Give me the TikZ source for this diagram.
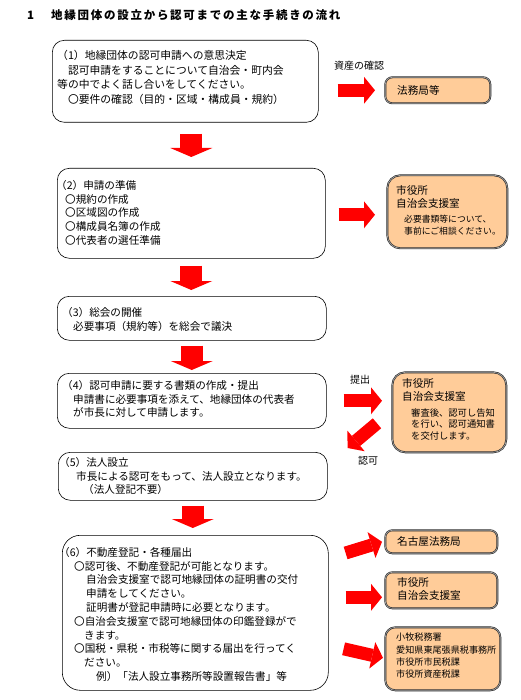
\documentclass[tikz,border=0pt]{standalone}
\usepackage{fontspec}
\usetikzlibrary{arrows.meta,calc,positioning}
\newfontfamily\jp{Noto Sans CJK JP}
\newfontfamily\jptitle[LetterSpace=15]{Noto Sans CJK JP}
\definecolor{peach}{RGB}{255,204,153}

\tikzset{
  stepbox/.style={draw=black, line width=0.6pt, rounded corners=12pt, anchor=north west, inner sep=0pt},
  office/.style={draw=black!85, line width=0.6pt, double=gray!70, double distance=0.7pt, fill=peach, rounded corners=7pt, anchor=north west, inner sep=0pt},
  boxtext/.style={anchor=north west, inner sep=0pt, align=left, font=\jp\fontsize{10.6}{13.8}\selectfont},
  notetext/.style={anchor=north west, inner sep=0pt, align=left, font=\jp\fontsize{8.8}{11.5}\selectfont},
  downarrow/.style={red, line width=22pt, -{Triangle[width=42pt,length=9pt,line width=0pt]}},
  rightarrow/.style={red, line width=13pt, -{Triangle[width=27pt,length=11pt,line width=0pt]}},
}

\begin{document}
\begin{tikzpicture}[x=1pt,y=-1pt]
    \useasboundingbox[fill=white] (0,0) rectangle (520,700);

    % 見出し
    \node[anchor=west, inner sep=0pt, font=\jptitle\bfseries\fontsize{11.5}{13}\selectfont] (title) at (27,15)
        {1\hspace{17pt}地縁団体の設立から認可までの主な手続きの流れ};

    % 手続きの枠
    \node[stepbox, minimum width=266pt, minimum height=82pt] (s1) at (52,40) {};
    \node[stepbox, minimum width=268pt, minimum height=90pt] (s2) at (57,168) {};
    \node[stepbox, minimum width=269pt, minimum height=44pt] (s3) at (57,296) {};
    \node[stepbox, minimum width=269pt, minimum height=55pt] (s4) at (57,373) {};
    \node[stepbox, minimum width=269pt, minimum height=48pt] (s5) at (58,452) {};
    \node[stepbox, rounded corners=18pt, minimum width=266pt, minimum height=155pt] (s6) at (62,535) {};

    \node[boxtext, font=\jp\fontsize{10.8}{14.6}\selectfont] (s1text) at (57,50) {（1）地縁団体の認可申請への意思決定\\
        　認可申請をすることについて自治会・町内会\\
        等の中でよく話し合いをしてください。\\
        　〇要件の確認（目的・区域・構成員・規約）};
    \node[boxtext] (s2text) at (56,180) {（2）申請の準備\\
        \hspace{9pt}〇規約の作成\\
        \hspace{9pt}〇区域図の作成\\
        \hspace{9pt}〇構成員名簿の作成\\
        \hspace{9pt}〇代表者の選任準備};
    \node[boxtext] (s3text) at (62,307) {（3）総会の開催\\
        \hspace{11pt}必要事項（規約等）を総会で議決};
    \node[boxtext] (s4text) at (62,380) {（4）認可申請に要する書類の作成・提出\\
        \hspace{11pt}申請書に必要事項を添えて、地縁団体の代表者\\
        \hspace{11pt}が市長に対して申請します。};
    \node[boxtext] (s5text) at (59,457) {（5）法人設立\\
        \hspace{17pt}市長による認可をもって、法人設立となります。\\
        \hspace{24pt}（法人登記不要）};
    \node[boxtext] (s6text) at (59,547) {（6）不動産登記・各種届出\\
        \hspace{15pt}〇認可後、不動産登記が可能となります。\\
        \hspace{27pt}自治会支援室で認可地縁団体の証明書の交付\\
        \hspace{27pt}申請をしてください。\\
        \hspace{27pt}証明書が登記申請時に必要となります。\\
        \hspace{15pt}〇自治会支援室で認可地縁団体の印鑑登録がで\\
        \hspace{25pt}きます。\\
        \hspace{15pt}〇国税・県税・市税等に関する届出を行ってく\\
        \hspace{25pt}ださい。\\
        \hspace{37pt}例）「法人設立事務所等設置報告書」等};

    % 窓口の枠
    \node[office, minimum width=105pt, minimum height=26pt] (h1) at (385,77) {};
    \node[office, rounded corners=13pt, minimum width=120pt, minimum height=73pt] (r2) at (387,175) {};
    \node[office, rounded corners=13pt, minimum width=114pt, minimum height=80pt] (r4) at (392,372) {};
    \node[office, minimum width=112pt, minimum height=23pt] (r6a) at (385,530) {};
    \node[office, minimum width=112pt, minimum height=36pt] (r6b) at (385,572) {};
    \node[office, rounded corners=10pt, minimum width=115pt, minimum height=63pt] (r6c) at (385,627) {};

    \node[boxtext, anchor=west] (h1text) at (397,90) {法務局等};
    \node[boxtext] (r2text) at (396,185) {市役所\\自治会支援室};
    \node[notetext] (r2note) at (404,215) {必要書類等について、\\事前にご相談ください。};
    \node[boxtext] (r4text) at (402,378) {市役所\\自治会支援室};
    \node[notetext, font=\jp\fontsize{9.3}{11.5}\selectfont] (r4note) at (411,408) {審査後、認可し告知\\を行い、認可通知書\\を交付します。};
    \node[boxtext, anchor=west] (r6atext) at (397,541) {名古屋法務局};
    \node[boxtext] (r6btext) at (397,577) {市役所\\自治会支援室};
    \node[notetext, font=\jp\fontsize{9.1}{12.3}\selectfont] (r6ctext) at (396,633) {小牧税務署\\愛知県東尾張県税事務所\\市役所市民税課\\市役所資産税課};

    % 矢印のラベル
    \node[font=\jp\fontsize{10}{12}\selectfont] (asset) at (359,66) {資産の確認};
    \node[font=\jp\fontsize{10}{12}\selectfont] (submit) at (360,380) {提出};
    \node[font=\jp\fontsize{10}{12}\selectfont] (permit) at (368,461) {認可};

    % 下向きの矢印
    \draw[downarrow, shorten <=11pt, shorten >=11pt] (s2.north |- s1.south) -- (s2.north);
    \draw[downarrow, shorten <=7pt, shorten >=6pt] (s2.south) -- (s2.south |- s3.north);
    \draw[downarrow, shorten <=5pt, shorten >=3pt] (s3.south) -- (s3.south |- s4.north);
    \draw[downarrow, shorten <=5pt, shorten >=7pt] (s5.south) -- (s5.south |- s6.north);

    % 横向きの矢印
    \draw[rightarrow, shorten <=19pt, shorten >=10pt] (s1.east |- h1.west) -- (h1.west);
    \draw[rightarrow, shorten <=13pt, shorten >=12pt] ($(s2.east |- r2.west)+(0,3)$) -- ($(r2.west)+(0,3)$);
    \draw[rightarrow, shorten <=17pt, shorten >=10pt] (s4.east) -- (s4.east -| r4.west);
    \draw[rightarrow] ($(r4.west)+(-15,11)$) -- ($(s5.north east)+(20,-4)$);
    \draw[rightarrow] ($(s6.north east)+(17,18)$) -- ($(r6a.west)+(-3,0)$);
    \draw[rightarrow] ($(s6.east |- r6b.west)+(17,7)$) -- ($(r6b.west)+(-3,7)$);
    \draw[rightarrow] ($(s6.east |- r6c.west)+(15,-10)$) -- ($(r6c.west)+(-2,-1)$);
\end{tikzpicture}
\end{document}
